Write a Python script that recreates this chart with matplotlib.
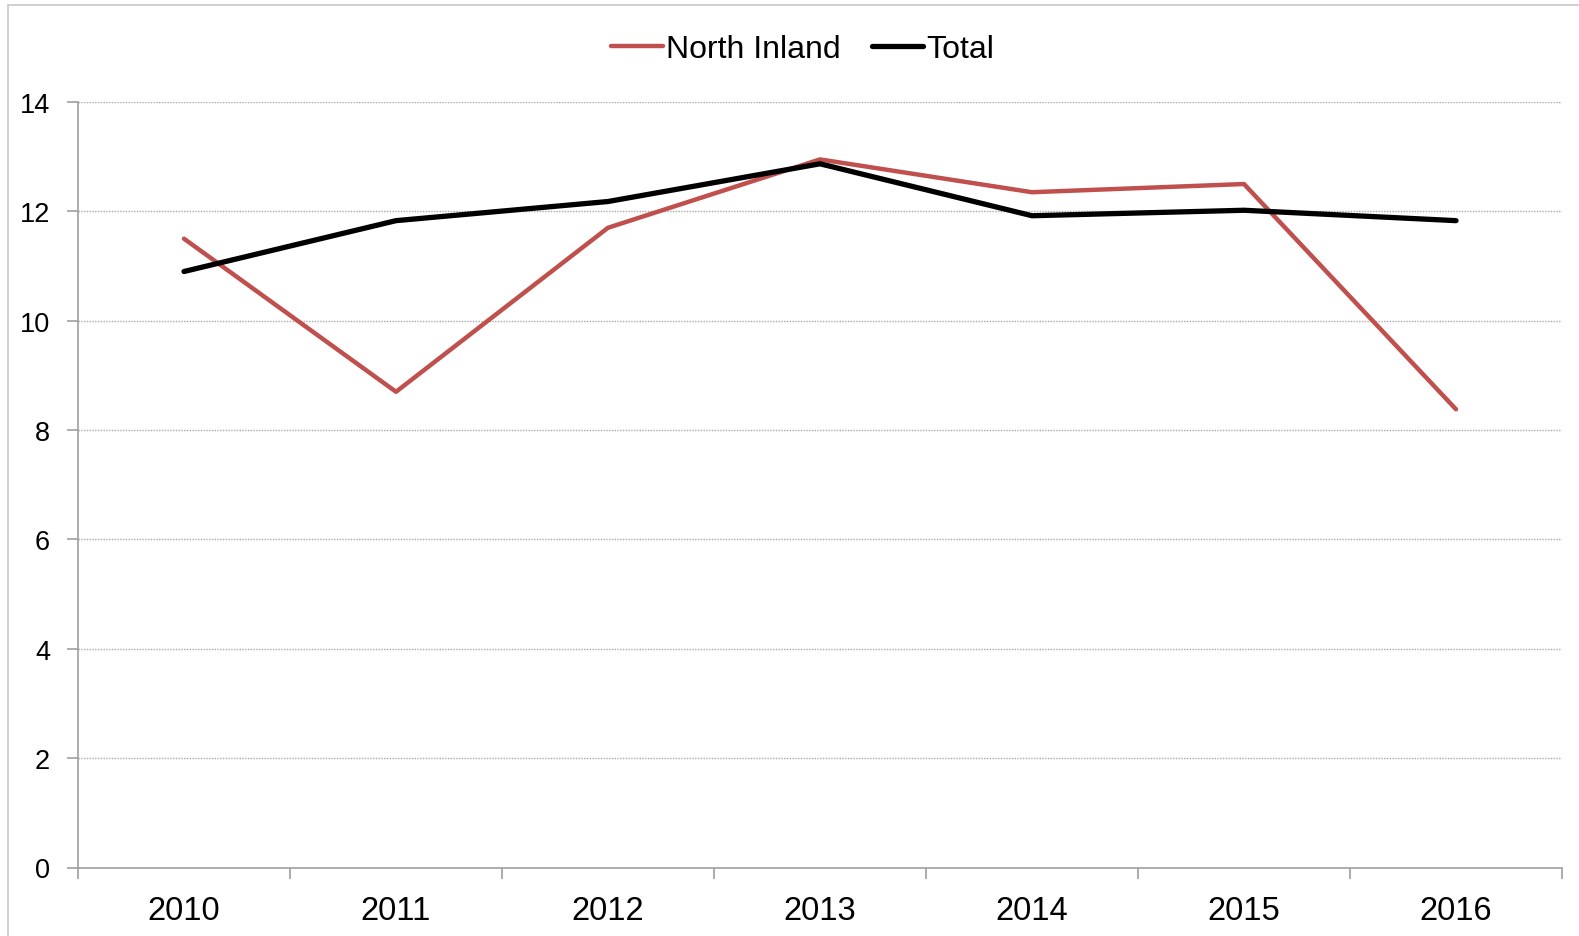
import matplotlib.pyplot as plt
from matplotlib.patches import Rectangle

years = ['2010', '2011', '2012', '2013', '2014', '2015', '2016']
north_inland = [11.5, 8.7, 11.7, 12.95, 12.35, 12.5, 8.38]
total = [10.9, 11.83, 12.18, 12.87, 11.92, 12.02, 11.83]

plt.rcParams['font.family'] = ['Liberation Sans', 'DejaVu Sans']

W, H = 1579, 937
fig = plt.figure(figsize=(W / 100, H / 100), dpi=100)
ax = fig.add_axes([78 / W, (H - 868.5) / H, (1562 - 78) / W, (868.5 - 103) / H])

# light frame around the chart area
fig.patches.append(Rectangle((8 / W, -0.05), 1.1, (H - 6) / H + 0.05,
                             transform=fig.transFigure, fill=False,
                             edgecolor='#c8c8c8', linewidth=1.2))

x = list(range(len(years)))
ax.plot(x, north_inland, color='#c0504d', linewidth=3.2, label='North Inland',
        solid_capstyle='round')
ax.plot(x, total, color='black', linewidth=3.8, label='Total',
        solid_capstyle='round')

ax.set_xlim(-0.5, len(years) - 0.5)
ax.set_ylim(0, 14)
ax.set_yticks(range(0, 15, 2))
ax.set_xticks(x)
ax.set_xticklabels(years, fontsize=23.5)
ax.set_xticks([i - 0.5 for i in range(len(years) + 1)], minor=True)
ax.tick_params(axis='x', which='major', length=0, pad=20)
ax.tick_params(axis='x', which='minor', length=8, width=1.2, color='#a0a0a0', direction='out')
ax.tick_params(axis='y', length=8, width=1.2, color='#a0a0a0', labelsize=19.5, pad=12)

ax.yaxis.grid(True, color='#a8a8a8', linestyle=(0, (1, 1)), linewidth=1)
ax.set_axisbelow(True)
for s in ['top', 'right']:
    ax.spines[s].set_visible(False)
for s in ['left', 'bottom']:
    ax.spines[s].set_color('#a0a0a0')
    ax.spines[s].set_linewidth(1.2)

fig.legend(loc='center', bbox_to_anchor=(803 / W, (H - 50) / H), ncol=2,
           frameon=False, fontsize=23, handlelength=1.6, handletextpad=0.1,
           columnspacing=1.0)

fig.savefig('out.png', dpi=100)
